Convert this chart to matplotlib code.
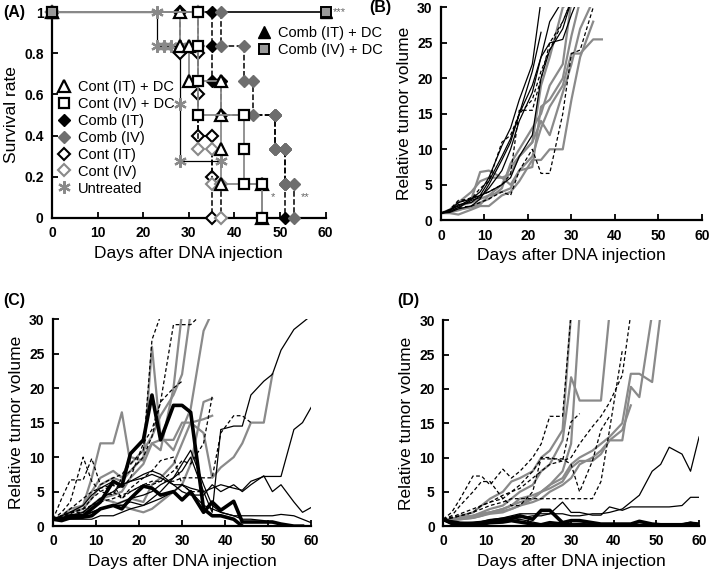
import numpy as np
import matplotlib.pyplot as plt
from matplotlib.lines import Line2D

plt.rcParams['font.family'] = ['Liberation Sans', 'DejaVu Sans']

# ---- (A) survival data: (day, survival) vertices of each step curve ----
cont_it_dc_x = [0, 28, 28, 30, 30, 37, 37, 37, 37, 46, 46]
cont_it_dc_y = [1, 1, 0.833, 0.833, 0.667, 0.667, 0.5, 0.333, 0.167, 0.167, 0]
cont_iv_dc_x = [0, 32, 32, 32, 32, 42, 42, 42, 46, 46]
cont_iv_dc_y = [1, 1, 0.833, 0.667, 0.5, 0.5, 0.333, 0.167, 0.167, 0]
comb_it_x = [0, 35, 35, 35, 37, 37, 49, 49, 51, 51, 51]
comb_it_y = [1, 1, 0.833, 0.667, 0.667, 0.5, 0.5, 0.333, 0.333, 0.167, 0]
comb_iv_x = [0, 37, 37, 42, 42, 44, 44, 49, 49, 51, 51, 53, 53]
comb_iv_y = [1, 1, 0.833, 0.833, 0.667, 0.667, 0.5, 0.5, 0.333, 0.333, 0.167, 0.167, 0]
cont_it_x = [0, 28, 28, 32, 32, 32, 35, 35, 35]
cont_it_y = [1, 1, 0.8, 0.8, 0.6, 0.4, 0.4, 0.2, 0]
cont_iv_x = [0, 32, 32, 32, 35, 35, 37, 37]
cont_iv_y = [1, 1, 0.833, 0.333, 0.333, 0.167, 0.167, 0]
untreated_x = [0, 23, 23, 24.5, 26, 28, 28, 28, 37]
untreated_y = [1, 1, 0.833, 0.833, 0.833, 0.833, 0.555, 0.278, 0.278]
comb_dc_x = [0, 60]
comb_dc_y = [1, 1]

# ---- (B)-(D) relative tumor volume, measured on these days ----
days = [0, 2, 4, 7, 9, 11, 14, 16, 18, 21, 23, 25, 28, 30, 32, 35, 37,
        39, 42, 44, 46, 49, 51, 53, 56, 58, 60]

b_black = [
    [1, 1.5, 2, 3, 4, 6, 10.5, 13, 17, 22, 31],
    [1, 1.3, 2.2, 2.5, 3.5, 5.5, 9, 11.5, 15, 21, 26.5],
    [1, 1.2, 1.8, 2.8, 3.2, 4.5, 7, 10, 14, 18, 23, 25, 25.5, 29, 32],
    [1, 1.4, 2.5, 3, 3.5, 4, 5, 6, 9, 12, 20, 24, 27, 31],
    [1, 1.1, 1.6, 2, 3, 5, 8.5, 11, 15, 19, 23, 28, 31],
]
b_dashed = [
    [1, 1.3, 2.5, 3.2, 3.5, 4, 5, 6.5, 15.5, 15.5, 20, 25, 28, 31],
    [1, 1.2, 1.8, 2, 2.5, 3, 4, 3.5, 7, 10, 6.6, 6.6, 15, 23.5, 24, 30, 31],
    [1, 1.5, 2.8, 3, 4.5, 5.5, 11, 12, 15, 17, 21, 24, 28, 31],
]
b_gray = [
    [1, 1, 0.8, 1.5, 2, 2, 3.5, 4, 5.5, 8.5, 8.5, 10, 10, 17, 23, 28],
    [1, 1.2, 1.8, 3, 6.8, 7, 6, 5, 7, 9, 13, 16, 19, 23.5, 23.5, 25.5, 25.5],
    [1, 1.5, 2.5, 4, 5.5, 6, 6, 6.5, 9, 11, 14, 12, 18, 22, 27, 31],
    [1, 1.3, 2, 2.5, 3, 3.5, 4, 4.5, 7, 7.5, 16, 17, 20, 26, 31],
    [1, 1.1, 1.4, 2, 2.5, 3, 4.5, 8, 10, 13, 15, 19, 22, 31],
    [1, 1.2, 1.5, 1.8, 2.2, 3.5, 5, 7.5, 9, 11, 19, 23, 30, 31],
]

c_thick = [
    [1, 1, 1.5, 1.5, 2.5, 3.5, 6.5, 5.8, 10.5, 12.5, 19, 12.5, 17.5, 17.5, 16.5, 2.5, 1.5, 1.5, 1, 0],
    [1, 0.8, 1.2, 1.3, 1.5, 2.5, 3, 2.5, 4, 5.8, 5.5, 4.5, 5, 3.8, 5, 2, 3.5, 2.3, 3.6, 0.6,
     0.6, 0.6, 0.6, 0.3, 0, 0],
]
c_black = [
    [1, 1, 1.2, 1.5, 2, 2.5, 3, 3.5, 4, 4.5, 5, 6, 7, 8, 10, 5, 2, 14, 14.5, 14.5, 19, 21, 22,
     25.5, 28.5, 29.5, 30.5],
    [1, 1.2, 1.5, 2, 3, 4, 5, 6, 6.5, 7, 7.5, 7, 6, 6, 5.5, 5, 5.5, 6, 5.5, 5.2, 6.5, 7.2, 7.2,
     7.2, 14, 15, 17.2],
    [1, 1.5, 2, 3, 4.5, 5.5, 6.5, 6, 6.5, 7.5, 8, 7.5, 6, 5, 4.5, 4.5, 6, 5, 6, 5, 6, 7.3, 5, 6,
     3.5, 2, 2.7],
    [1, 1, 1.2, 1.5, 2, 2.5, 3, 3, 3.5, 3, 3.5, 4, 5, 6, 5, 3, 2.5, 2, 1.5, 1.5, 1.5, 1.5, 1.5,
     1.7, 1.5, 1, 0.5],
    [1, 1, 1, 1, 1, 1.5, 1.5, 2, 2.5, 3, 4, 5, 7, 9, 11, 6, 3, 2, 1.5, 1, 1, 0.8, 0.5, 0.3, 0, 0, 0],
]
c_dashed = [
    [1, 4, 6.7, 6.7, 9.8, 6, 7, 7.5, 9, 11, 27, 30.5],
    [1, 2, 3.5, 10, 6.5, 5, 4.5, 7, 8, 10, 13, 18, 20, 21],
    [1, 1.5, 2.5, 4, 5, 5.5, 6, 4, 5, 6, 6.5, 6.5, 8, 9.5, 9, 12, 18.8],
    [1, 1.5, 2, 2.5, 4, 5, 6, 5.5, 7, 12, 14, 18, 29.2, 29.2, 29.2, 31],
    [1, 1.2, 1.8, 2.5, 3, 3.5, 4, 4.5, 5, 6, 6, 6.5, 6.5, 7, 7, 7, 7, 13.5, 16, 16, 15],
    [1, 1.3, 2, 2, 3, 4, 5, 4, 5.5, 7, 8, 9.5, 10, 6, 5, 5],
]
c_gray = [
    [1, 1.5, 2.5, 3, 7, 12, 12, 16.5, 9, 11, 13, 16, 19, 22, 31],
    [1, 1.2, 2, 2.5, 4, 6, 7, 6.5, 8, 10, 12, 11, 20, 31],
    [1, 1.3, 2, 3, 5, 7, 8, 7, 10, 9.5, 26, 13, 11, 14, 17, 28.3, 31],
    [1, 1, 1.5, 2, 3, 4, 4.5, 5, 7, 9, 12, 12.5, 12.5, 15, 15, 13.5, 7, 8.5, 10, 12, 15, 15, 22],
    [1, 1.2, 1.5, 2, 3, 4, 3.5, 3, 2.5, 2, 2.5, 3.5, 5, 6, 9, 18, 18.5],
    [1, 1, 1.2, 1.5, 2, 2.5, 3, 3.5, 4, 3.5, 6, 7, 9, 12, 15, 15.5, 16],
]

d_thick = [
    [1, 0.5, 0.3, 0.3, 0.5, 0.8, 1, 1.2, 1.5, 1, 2.3, 2.3, 0.5, 0.8, 0.8, 0.5, 0.3, 0.3, 0.3,
     0.3, 0.7, 0.3, 0.2, 0.2, 0.2, 0.4, 0.3],
    [1, 0.4, 0.2, 0.2, 0.3, 0.5, 0.6, 0.8, 0.6, 0.3, 0.2, 0.5, 0.3, 0.2, 0.1, 0.1, 0.1, 0.1, 0.1,
     0.1, 0.1, 0.1, 0.1, 0.1, 0.1, 0.1, 0.1],
]
d_black = [
    [1, 0.8, 0.6, 0.5, 0.5, 0.6, 0.8, 1, 1.2, 1.5, 1.5, 1.8, 1.8, 1.5, 1.5, 1.8, 1.8, 2, 2.5,
     3.5, 4.5, 8, 9, 11.5, 10.5, 8, 13],
    [1, 0.7, 0.5, 0.6, 0.7, 0.9, 1.2, 1.5, 1.8, 1.8, 1.8, 1.8, 3.5, 2, 2, 1.6, 1.6, 2.8, 2.3,
     2.8, 2.8, 2.8, 2.8, 2.8, 3, 4.2, 4.2],
    [1, 0.6, 0.5, 0.4, 0.3, 0.5, 0.6, 0.8, 1, 0.6, 0.3, 0.2, 0.2, 0.3, 0.4, 0.3, 0.2, 0.2, 0.2,
     0.3, 0.2, 0.2, 0.2, 0.2, 0.3, 0.6, 0.3],
]
d_dashed = [
    [1, 2, 4, 7.3, 7.3, 6, 8.3, 7, 8, 10, 12, 16, 16, 31],
    [1, 1.5, 3, 5, 6.5, 6.5, 4, 3, 3, 5, 10, 10, 9.5, 15.2, 16.4],
    [1, 1.2, 1.5, 2, 2.5, 3, 3.5, 4, 4, 4, 4, 4, 4, 4, 4, 4, 6.5, 14, 25.6],
    [1, 1.2, 1.5, 2, 3, 3.5, 4.5, 5, 5.5, 7, 8, 9, 9.5, 10, 12, 14.5, 16, 18, 22, 31],
    [1, 1.3, 1.8, 2.5, 3, 3.5, 4, 5, 6, 8, 9.8, 9.8, 9.8, 9, 5, 9.5, 14, 16],
]
d_gray = [
    [1, 1, 1.5, 2, 3, 4, 5, 6.5, 7, 8, 10, 11, 14, 31],
    [0.8, 1, 1.3, 1.5, 2, 2.5, 3, 4, 5, 6, 8, 9, 12.5, 21.7, 18.3, 18.3, 18.3, 31],
    [1, 1, 1.2, 1.5, 1.8, 2, 2.5, 3, 3.5, 4, 5, 6, 8, 12, 31],
    [1, 0.8, 1, 1.2, 1.5, 2, 2.5, 3, 4, 4.5, 5, 6, 7, 9, 10, 11, 12, 13, 15, 22.2, 22.2, 21, 31],
    [1, 1, 1, 1.2, 1.5, 1.8, 2, 2.5, 3, 4, 5, 5.5, 6.5, 8.5, 9.5, 9.5, 10.5, 12.5, 12.5, 20.3,
     18.8, 31],
    [1, 1.1, 1.3, 1.5, 1.8, 2, 2.2, 2.5, 3, 3.5, 4, 5, 6, 7, 9, 10, 11, 12.5, 14, 17.6],
]

GRAY = '#8a8a8a'
fig = plt.figure(figsize=(7.09, 5.75), dpi=100)
axA = fig.add_axes([0.0733, 0.621, 0.386, 0.358])
axB = fig.add_axes([0.622, 0.617, 0.368, 0.370])
axC = fig.add_axes([0.0748, 0.085, 0.364, 0.360])
axD = fig.add_axes([0.625, 0.085, 0.361, 0.358])


def style_axes(ax, ymax, ystep, ylabel):
    ax.set_xlim(0, 60)
    ax.set_ylim(0, ymax)
    ax.set_xticks(range(0, 61, 10))
    for s in ['top', 'right']:
        ax.spines[s].set_visible(False)
    for s in ['left', 'bottom']:
        ax.spines[s].set_linewidth(1.6)
    ax.tick_params(direction='in', length=4, width=1.3, labelsize=10, pad=6)
    for lab in ax.get_xticklabels() + ax.get_yticklabels():
        lab.set_fontweight('bold')
    ax.set_xlabel('Days after DNA injection', fontsize=12.5, labelpad=4)
    ax.set_ylabel(ylabel, fontsize=12.5, labelpad=4)


# ---- panel A ----
axA.plot(comb_dc_x, comb_dc_y, color='black', lw=1.2, clip_on=False, zorder=2)
axA.plot(untreated_x, untreated_y, color='black', lw=0.9, marker=(6, 2, 0), ms=9,
         mec=GRAY, mew=1.6, clip_on=False, zorder=3)
axA.plot(comb_it_x, comb_it_y, color='black', ls='--', lw=1.1, marker='D', ms=6.5,
         mfc='black', mec='black', clip_on=False, zorder=3)
axA.plot(comb_iv_x, comb_iv_y, color='black', ls='--', lw=1.1, marker='D', ms=6.5,
         mfc='#6e6e6e', mec='#6e6e6e', clip_on=False, zorder=4)
axA.plot(cont_it_x, cont_it_y, color='black', ls='--', lw=1.1, marker='D', ms=6,
         mfc='white', mec='black', mew=1.5, clip_on=False, zorder=4)
axA.plot(cont_iv_x, cont_iv_y, color='black', ls='--', lw=1.1, marker='D', ms=6,
         mfc='white', mec=GRAY, mew=1.5, clip_on=False, zorder=4)
axA.plot(cont_it_dc_x, cont_it_dc_y, color=GRAY, lw=1.3, marker='^', ms=8,
         mfc='white', mec='black', mew=1.6, clip_on=False, zorder=5)
axA.plot(cont_iv_dc_x, cont_iv_dc_y, color=GRAY, lw=1.3, marker='s', ms=7.5,
         mfc='white', mec='black', mew=1.6, clip_on=False, zorder=5)
axA.plot(comb_dc_x, comb_dc_y, ls='none', marker='^', ms=8, mfc='black', mec='black',
         clip_on=False, zorder=6)
axA.plot(comb_dc_x, comb_dc_y, ls='none', marker='s', ms=7, mfc='#999999', mec='black',
         mew=1.4, clip_on=False, zorder=6)

style_axes(axA, 1, 0.2, 'Survival rate')
axA.set_yticks([0, 0.2, 0.4, 0.6, 0.8, 1])
axA.set_yticklabels(['0', '0.2', '0.4', '0.6', '0.8', '1'], fontweight='bold')
axA.text(61.5, 1, '***', color='#666666', fontsize=8, va='center', clip_on=False)
axA.text(48.5, 0.1, '*', color='#666666', fontsize=8, ha='center', va='center')
axA.text(55.5, 0.1, '**', color='#666666', fontsize=8, ha='center', va='center')

left_handles = [
    Line2D([], [], ls='none', marker='^', ms=8, mfc='white', mec='black', mew=1.6),
    Line2D([], [], ls='none', marker='s', ms=7.5, mfc='white', mec='black', mew=1.6),
    Line2D([], [], ls='none', marker='D', ms=6.5, mfc='black', mec='black'),
    Line2D([], [], ls='none', marker='D', ms=6.5, mfc='#6e6e6e', mec='#6e6e6e'),
    Line2D([], [], ls='none', marker='D', ms=6, mfc='white', mec='black', mew=1.5),
    Line2D([], [], ls='none', marker='D', ms=6, mfc='white', mec=GRAY, mew=1.5),
    Line2D([], [], ls='none', marker=(6, 2, 0), ms=9, mec=GRAY, mew=1.6),
]
left_labels = ['Cont (IT) + DC', 'Cont (IV) + DC', 'Comb (IT)', 'Comb (IV)',
               'Cont (IT)', 'Cont (IV)', 'Untreated']
legA1 = axA.legend(left_handles, left_labels, loc='upper left',
                   bbox_to_anchor=(0.02, 0.67), frameon=False, fontsize=10.5,
                   handlelength=0.9, handletextpad=0.5, labelspacing=0.2,
                   borderpad=0, borderaxespad=0)
axA.add_artist(legA1)
right_handles = [
    Line2D([], [], ls='none', marker='^', ms=8, mfc='black', mec='black'),
    Line2D([], [], ls='none', marker='s', ms=7, mfc='#999999', mec='black', mew=1.4),
]
axA.legend(right_handles, ['Comb (IT) + DC', 'Comb (IV) + DC'], loc='upper left',
           bbox_to_anchor=(0.75, 0.93), frameon=False, fontsize=10.5,
           handlelength=0.9, handletextpad=0.5, labelspacing=0.2,
           borderpad=0, borderaxespad=0)


# ---- panels B-D ----
def draw_lines(ax, series, **kw):
    for vals in series:
        ax.plot(days[:len(vals)], vals, **kw)


draw_lines(axB, b_gray, color=GRAY, lw=1.6)
draw_lines(axB, b_dashed, color='black', lw=0.9, ls=(0, (3, 2)))
draw_lines(axB, b_black, color='black', lw=0.9)

draw_lines(axC, c_gray, color=GRAY, lw=1.6)
draw_lines(axC, c_dashed, color='black', lw=0.9, ls=(0, (3, 2)))
draw_lines(axC, c_black, color='black', lw=0.9)
draw_lines(axC, c_thick, color='black', lw=2.6)

draw_lines(axD, d_gray, color=GRAY, lw=1.6)
draw_lines(axD, d_dashed, color='black', lw=0.9, ls=(0, (3, 2)))
draw_lines(axD, d_black, color='black', lw=0.9)
draw_lines(axD, d_thick, color='black', lw=2.6)

for ax in (axB, axC, axD):
    style_axes(ax, 30, 5, 'Relative tumor volume')
    ax.set_yticks(range(0, 31, 5))
    for lab in ax.get_yticklabels():
        lab.set_fontweight('bold')

fig.text(0.004, 0.979, '(A)', fontsize=11.5, fontweight='bold', va='center')
fig.text(0.521, 0.987, '(B)', fontsize=11.5, fontweight='bold', va='center')
fig.text(0.004, 0.478, '(C)', fontsize=11.5, fontweight='bold', va='center')
fig.text(0.561, 0.478, '(D)', fontsize=11.5, fontweight='bold', va='center')

fig.savefig('out.png', dpi=100)
